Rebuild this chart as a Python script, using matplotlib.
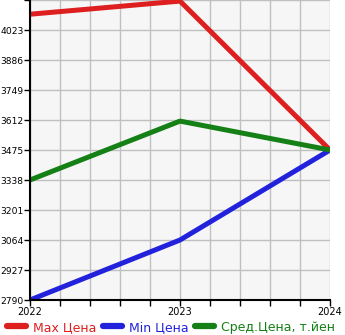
import matplotlib
matplotlib.use('Agg')
import matplotlib.pyplot as plt
from matplotlib.ticker import MultipleLocator

years = [2022, 2023, 2024]
max_price = [4095, 4155, 3475]
min_price = [2790, 3064, 3475]
avg_price = [3338, 3607, 3475]
y_ticks = [2790, 2927, 3064, 3201, 3338, 3475, 3612, 3749, 3886, 4023]
labels = ['Max Цена', 'Min Цена', 'Сред.Цена, т.йен']

fig = plt.figure(figsize=(3.45, 3.35), dpi=100)
ax = fig.add_axes([30/345, 35/335, 300/345, 300/335])
ax.set_facecolor('#f6f6f6')

ax.plot(years, max_price, color='#dd1f1f', lw=3.6, label=labels[0], solid_capstyle='round')
ax.plot(years, min_price, color='#2222dd', lw=3.6, label=labels[1], solid_capstyle='round')
ax.plot(years, avg_price, color='#158015', lw=3.6, label=labels[2], solid_capstyle='round')

ax.set_xlim(2022, 2024)
ax.set_ylim(2790, 4160)
ax.set_xticks(years)
ax.set_xticklabels([str(y) for y in years])
ax.xaxis.set_minor_locator(MultipleLocator(0.2))
ax.set_yticks(y_ticks + [4160])
ax.set_yticklabels([str(v) for v in y_ticks] + [''])
ax.grid(True, which='both', color='#c0c0c0', lw=1)
ax.set_axisbelow(True)
ax.tick_params(axis='y', labelsize=6.6, length=4, width=1, pad=0.5)
ax.tick_params(axis='x', labelsize=7, length=4, width=1, pad=1)
ax.tick_params(which='minor', length=4, width=1)
for s in ['top', 'right']:
    ax.spines[s].set_visible(False)
for s in ['left', 'bottom']:
    ax.spines[s].set_linewidth(1.5)

leg = fig.legend(loc='lower left', bbox_to_anchor=(-0.012, -0.03), ncol=3, frameon=False,
                 fontsize=9, handlelength=1.5, handletextpad=0.55, columnspacing=0.55)
for t, c in zip(leg.get_texts(), ['#dd1f1f', '#2222dd', '#158015']):
    t.set_color(c)
for h in leg.legend_handles:
    h.set_linewidth(4.5)

fig.savefig('out.png', dpi=100)
